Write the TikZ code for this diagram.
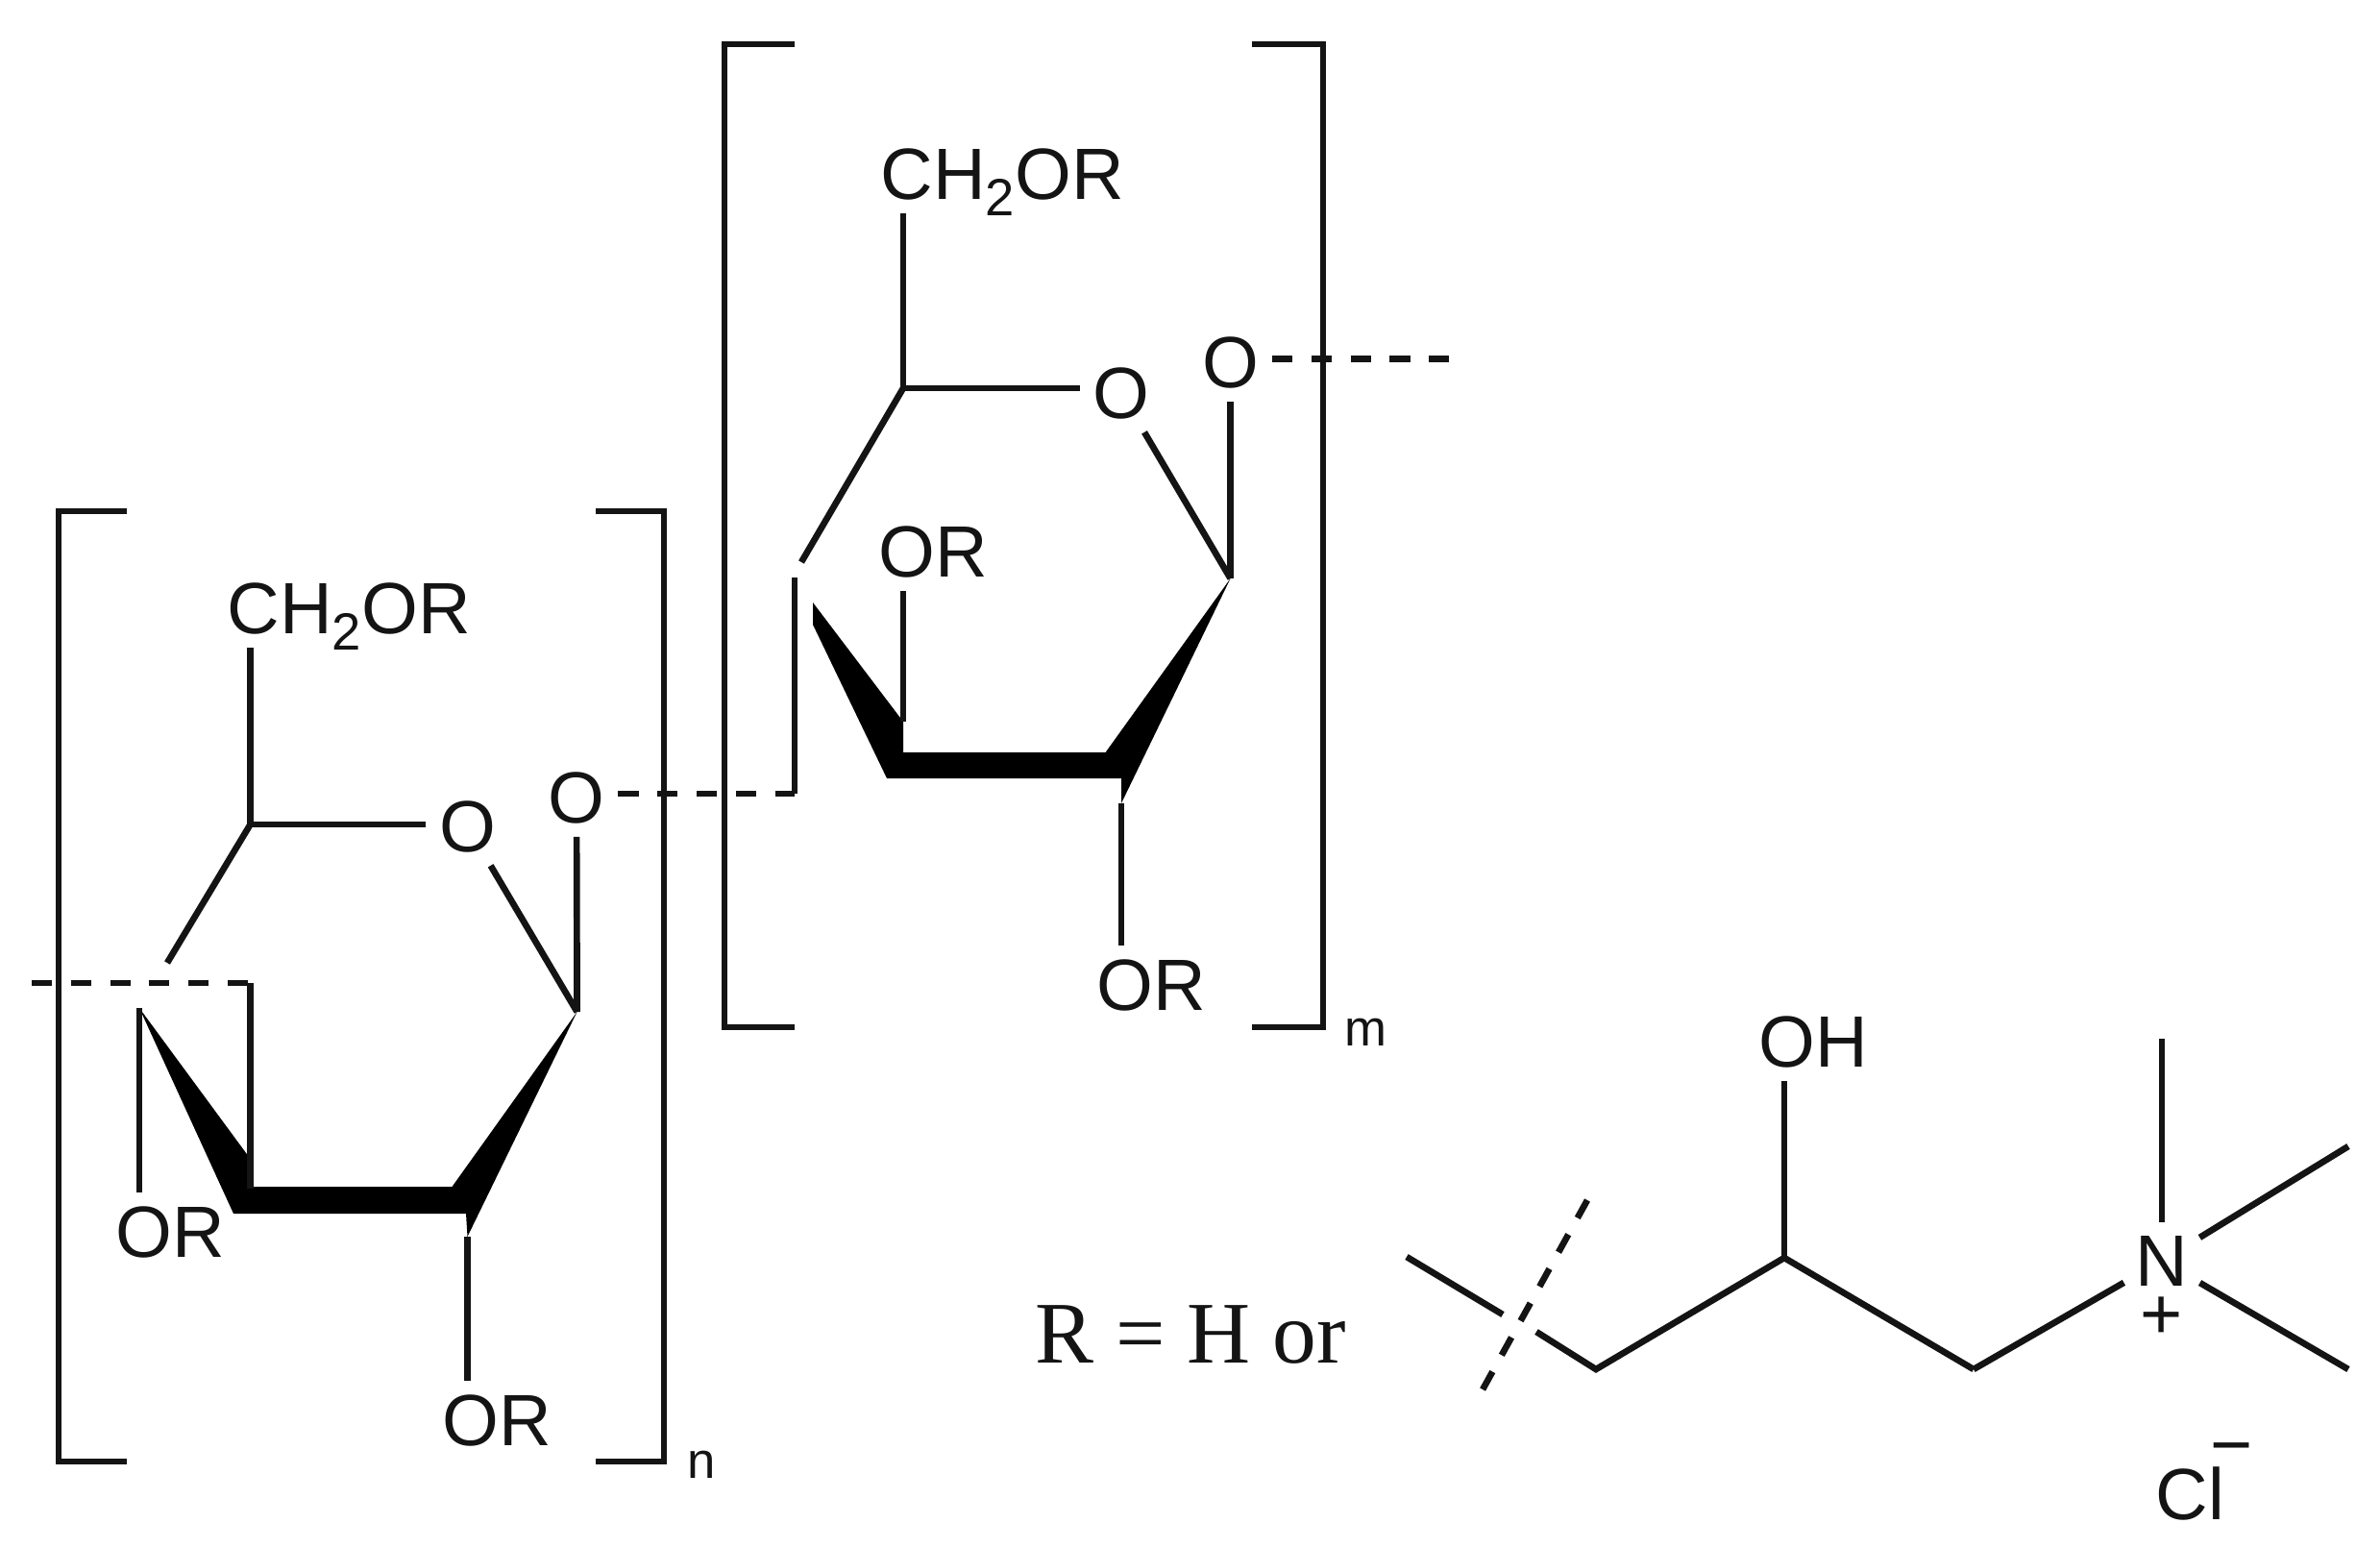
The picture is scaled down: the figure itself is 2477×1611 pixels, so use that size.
\documentclass[tikz,border=0pt]{standalone}
\usepackage{fontspec}
\setmainfont{Liberation Sans}
\newfontfamily\serifword{Liberation Serif}
\definecolor{inkdark}{RGB}{20,20,20}
\newcommand{\subtwo}{\smash{\raisebox{-5pt}{\fontsize{15.5}{15.5}\selectfont 2}}}
\tikzset{
  bond/.style={draw=inkdark, line width=1.9pt},
  cutbond/.style={bond, dash pattern=on 6pt off 5.6pt},
  nbond/.style={bond, shorten >=3.8pt},
  wedgefill/.style={fill=black},
  atom/.style={inner sep=3.8pt, text=inkdark, font=\fontsize{21.5}{21.5}\selectfont},
  atombase/.style={atom, anchor=base west, xshift=-3.8pt},
  repeatidx/.style={inner sep=0pt, anchor=base west, text=inkdark, font=\fontsize{15}{15}\selectfont},
}
\begin{document}
\begin{tikzpicture}[x=0.01cm, y=-0.01cm]
  \useasboundingbox (0, 0) rectangle (2477, 1611);

  % lower unit
  \node [atombase] (choA) at (236, 659) {CH\subtwo OR};
  \node [atom] (oringA) at (486.5, 860) {O};
  \node [atom] (olinkA) at (600, 830) {O};
  \node [atombase] (orleftA) at (120, 1308) {OR};
  \node [atombase] (orbotA) at (460, 1504) {OR};
  \coordinate (c5A) at (260.5, 858);
  \coordinate (c1A) at (600.6, 1053);
  \coordinate (c4A) at (145, 1049);
  \coordinate (c3A) at (260.5, 1237);
  \coordinate (c2A) at (486.5, 1287);
  \coordinate (gapA) at (174, 1002);
  \coordinate (cutA) at (33, 1023);
  \coordinate (cornerA) at (260.5, 1023);
  \fill [wedgefill] (c4A) -- (262, 1208) -- (262, 1235) -- (470.5, 1235) -- (c1A) -- (c2A)
    -- (485, 1263) -- (243, 1263) -- cycle;
  \draw [bond] (c5A) -- (c5A |- choA.south);
  \draw [bond] (c5A) -- (c5A -| oringA.west);
  \draw [bond] (oringA) -- (c1A);
  \draw [bond] (c1A) -- (olinkA);
  \draw [bond] (c5A) -- (gapA);
  \draw [bond] (c4A) -- (c4A |- orleftA.north);
  \draw [bond] (c2A) -- (c2A |- orbotA.north);
  \draw [bond] (cornerA) -- (c3A);
  \draw [cutbond] (cutA) -- (cornerA);
  \draw [bond] (132, 532) -- (61, 532) -- (61, 1521) -- (132, 1521);
  \draw [bond] (620, 532) -- (691, 532) -- (691, 1521) -- (620, 1521);
  \node [repeatidx] (idxn) at (715, 1538) {n};

  % upper unit
  \node [atombase] (choB) at (916, 207) {CH\subtwo OR};
  \node [atom] (oringB) at (1167, 409) {O};
  \node [atom] (olinkB) at (1280.6, 377) {O};
  \node [atombase] (orinB) at (914, 600) {OR};
  \node [atombase] (orbotB) at (1141, 1051) {OR};
  \coordinate (c5B) at (940, 404);
  \coordinate (c1B) at (1280.6, 602);
  \coordinate (c4B) at (846, 627);
  \coordinate (c3B) at (940, 751);
  \coordinate (c2B) at (1167, 836);
  \coordinate (gapB) at (834, 585);
  \coordinate (topB) at (827, 601);
  \coordinate (linkAB) at (827, 826);
  \coordinate (cutB) at (1510, 373.5);
  \fill [wedgefill] (c4B) -- (c3B) -- (940, 783) -- (1150.6, 783) -- (c1B) -- (c2B)
    -- (1167, 810) -- (923, 810) -- (846, 650) -- cycle;
  \draw [bond] (c5B) -- (c5B |- choB.south);
  \draw [bond] (c5B) -- (c5B -| oringB.west);
  \draw [bond] (oringB) -- (c1B);
  \draw [bond] (c1B) -- (olinkB);
  \draw [bond] (c5B) -- (gapB);
  \draw [bond] (c3B) -- (c3B |- orinB.south);
  \draw [bond] (c2B) -- (c2B |- orbotB.north);
  \draw [bond] (topB) -- (linkAB);
  \draw [cutbond] (olinkA.east |- linkAB) -- (linkAB);
  \draw [cutbond] (olinkB.east |- cutB) -- (cutB);
  \draw [bond] (827, 46) -- (754, 46) -- (754, 1069) -- (827, 1069);
  \draw [bond] (1303, 46) -- (1377, 46) -- (1377, 1069) -- (1303, 1069);
  \node [repeatidx] (idxm) at (1399, 1088) {m};

  % substituent
  \node [atombase, font=\fontsize{26}{26}\selectfont\serifword, inner sep=0pt, xshift=3.8pt] (rdef) at (1077, 1418) {R = H or};
  \node [atombase] (ohgroup) at (1830, 1110) {OH};
  \node [atom, inner sep=0pt] (nplus) at (2250, 1312) {N};
  \node [atom, inner sep=0pt] (plus) at (2250, 1372) {+};
  \node [atombase, inner sep=0pt, xshift=3.8pt] (clion) at (2243, 1581) {Cl};
  \node [atom, inner sep=0pt] (minus) at (2323, 1516) {−};
  \coordinate (stubL) at (1464, 1308);
  \coordinate (stubR) at (1564, 1368);
  \coordinate (ch2L) at (1599, 1386);
  \coordinate (ch2A) at (1661, 1425);
  \coordinate (choh) at (1857, 1309);
  \coordinate (ch2B) at (2054, 1425);
  \coordinate (meT) at (2250, 1081);
  \coordinate (meU) at (2444, 1193);
  \coordinate (meD) at (2444, 1425);
  \coordinate (slashT) at (1652, 1249);
  \coordinate (slashB) at (1542, 1448);
  \draw [bond] (stubL) -- (stubR);
  \draw [bond] (ch2L) -- (ch2A) -- (choh) -- (ch2B);
  \draw [nbond] (ch2B) -- (nplus);
  \draw [bond] (choh) -- (choh |- ohgroup.south);
  \draw [nbond] (meT) -- (nplus);
  \draw [nbond] (meU) -- (nplus);
  \draw [nbond] (meD) -- (nplus);
  \draw [cutbond] (slashT) -- (slashB);
\end{tikzpicture}
\end{document}
